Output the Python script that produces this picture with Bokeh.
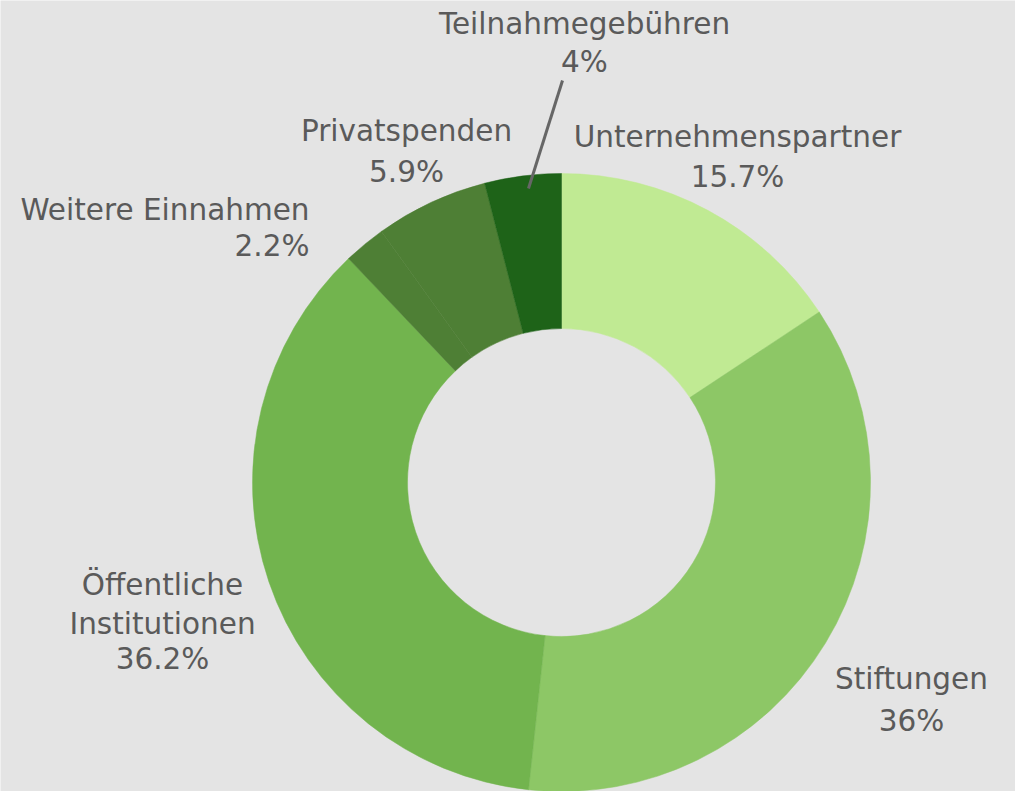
import math
from bokeh.plotting import figure
from bokeh.models import Range1d, ColumnDataSource
from bokeh.core.properties import value
from bokeh.embed import file_html
from bokeh.resources import INLINE

# ---- data ----
categories = ["Unternehmenspartner", "Stiftungen", "Öffentliche Institutionen",
              "Weitere Einnahmen", "Privatspenden", "Teilnahmegebühren"]
shares = [15.7, 36.0, 36.2, 2.2, 5.9, 4.0]
pct_labels = ["15.7%", "36%", "36.2%", "2.2%", "5.9%", "4%"]
colors = ["#c0ea93", "#8dc766", "#72b44e", "#4e7f35", "#4e7f35", "#1e6318"]

# ---- layout (window pixel coords: anchor x, name line centres, pct centre, align) ----
W, H = 1015, 791
label_layout = {
    "Unternehmenspartner": (737, [136], 176, "center"),
    "Stiftungen": (911, [678], 720, "center"),
    "Öffentliche Institutionen": (162, [584, 623], 658, "center"),
    "Weitere Einnahmen": (309, [209], 245, "right"),
    "Privatspenden": (406, [130], 171, "center"),
    "Teilnahmegebühren": (584, [23], 61, "center"),
}
name_lines = {"Öffentliche Institutionen": ["Öffentliche", "Institutionen"]}

def fx(x):
    return x

def fy(y):
    return H - y

cx, cy = fx(561), fy(482)
r_out, r_in = 309, 154

p = figure(width=W, height=H, output_backend="svg", toolbar_location=None,
           x_range=Range1d(0, W), y_range=Range1d(0, H),
           min_border=0, outline_line_color=None,
           background_fill_color="#e4e4e4", border_fill_color="#e4e4e4")
p.axis.visible = False
p.grid.visible = False

total = sum(shares)
starts, ends = [], []
cum = 0.0
for s in shares:
    starts.append(math.pi / 2 - 2 * math.pi * cum / total)
    cum += s
    ends.append(math.pi / 2 - 2 * math.pi * cum / total)

src = ColumnDataSource(dict(x=[cx] * len(shares), y=[cy] * len(shares),
                            start=starts, end=ends, color=colors))
p.annular_wedge(x="x", y="y", inner_radius=r_in, outer_radius=r_out,
                start_angle="start", end_angle="end", direction="clock",
                fill_color="color", line_color="color", line_width=0.5,
                source=src)

# leader line for Teilnahmegebühren
p.line(x=[fx(562), fx(528)], y=[fy(80), fy(188)], line_color="#666666", line_width=3)

font = value("DejaVu Sans")
tx, ty, ttext, talign = [], [], [], []
for cat, pct in zip(categories, pct_labels):
    ax, name_c, pct_c, align = label_layout[cat]
    lines = name_lines.get(cat, [cat])
    for ln, c in zip(lines, name_c):
        tx.append(fx(ax)); ty.append(fy(c)); ttext.append(ln); talign.append(align)
    tx.append(fx(ax)); ty.append(fy(pct_c)); ttext.append(pct); talign.append(align)

tsrc = ColumnDataSource(dict(x=tx, y=ty, text=ttext, align=talign))
p.text(x="x", y="y", text="text", text_align="align", text_baseline="middle",
       text_font=font, text_font_size="29.5px", text_color="#5a5a5a", source=tsrc)

open("out.html", "w").write(file_html(p, INLINE))
